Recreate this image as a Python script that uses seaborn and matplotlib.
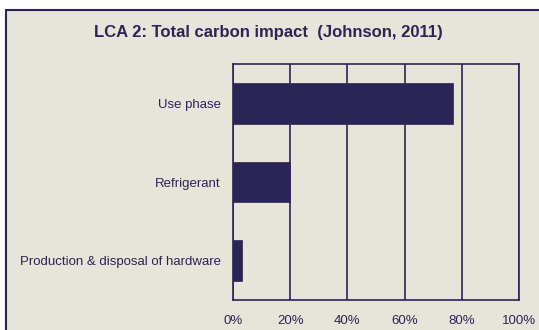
import matplotlib
matplotlib.use("Agg")
import matplotlib.pyplot as plt
import seaborn as sns
import pandas as pd
from matplotlib.patches import Rectangle

categories = ["Use phase", "Refrigerant", "Production & disposal of hardware"]
values = [77, 20, 3]
xticks = [0, 20, 40, 60, 80, 100]
xticklabels = ["0%", "20%", "40%", "60%", "80%", "100%"]
title = "LCA 2: Total carbon impact  (Johnson, 2011)"

sns.set_theme(style="white")
plt.rcParams['font.family'] = ['Liberation Sans', 'DejaVu Sans']

navy = "#2B2456"
bg = "#E7E4DA"

fig = plt.figure(figsize=(5.39, 3.30), dpi=100)
fig.patch.set_facecolor("white")
fig.add_artist(Rectangle((6/539, -0.05), 1.0, 1 - 10/330 + 0.05, transform=fig.transFigure,
                         facecolor=bg, edgecolor=navy, linewidth=1.5, zorder=0))

ax = fig.add_axes([233/539, 1 - 300/330, (519-233)/539, (300-64)/330])
ax.set_facecolor(bg)

df = pd.DataFrame({"category": categories, "value": values})
sns.barplot(data=df, x="value", y="category", orient="h", color=navy, width=0.52,
            saturation=1, edgecolor=navy, linewidth=0.5, ax=ax, zorder=3)

ax.set_xlim(0, 100)
ax.set_xticks(xticks)
ax.set_xticklabels(xticklabels)
ax.xaxis.grid(True, color=navy, linewidth=1.2, zorder=1)
ax.set_axisbelow(True)
for s in ax.spines.values():
    s.set_color(navy)
    s.set_linewidth(1.2)
ax.set_xlabel("")
ax.set_ylabel("")
ax.tick_params(axis="both", length=0, colors=navy, labelsize=9.5)
ax.tick_params(axis="x", pad=11)
ax.tick_params(axis="y", pad=9)
for lbl in ax.get_xticklabels() + ax.get_yticklabels():
    lbl.set_color(navy)

fig.text(268/539, 1 - 33/330, title, ha="center", va="center", fontsize=12,
         fontweight="bold", color=navy)

fig.savefig("out.png", dpi=100)
